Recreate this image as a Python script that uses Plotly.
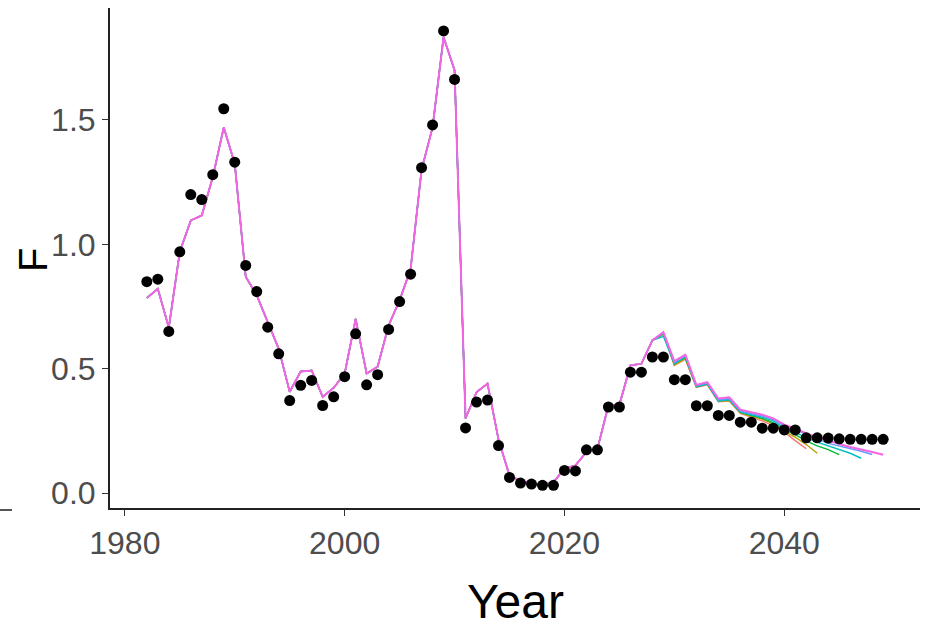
import plotly.graph_objects as go

# ---- data ----
point_years = list(range(1982, 2050))
point_F = [0.85, 0.86, 0.65, 0.97, 1.20, 1.18, 1.28, 1.545, 1.33, 0.915,
           0.81, 0.667, 0.56, 0.372, 0.433, 0.453, 0.352, 0.387, 0.468, 0.64,
           0.435, 0.476, 0.658, 0.77, 0.88, 1.308, 1.48, 1.858, 1.663, 0.262,
           0.366, 0.374, 0.191, 0.063, 0.040, 0.036, 0.031, 0.031, 0.091, 0.089,
           0.174, 0.174, 0.346, 0.346, 0.486, 0.486, 0.547, 0.547, 0.456, 0.456,
           0.351, 0.351, 0.312, 0.312, 0.285, 0.285, 0.261, 0.261, 0.254, 0.254,
           0.222, 0.222, 0.221, 0.218, 0.216, 0.216, 0.216, 0.216]

hist_years = list(range(1982, 2029))
hist_F = [0.784, 0.821, 0.665, 0.97, 1.096, 1.116, 1.27, 1.47, 1.324, 0.87,
          0.795, 0.69, 0.58, 0.407, 0.489, 0.493, 0.387, 0.423, 0.48, 0.70,
          0.48, 0.508, 0.674, 0.775, 0.90, 1.30, 1.47, 1.833, 1.70, 0.30,
          0.406, 0.44, 0.215, 0.07, 0.05, 0.04, 0.035, 0.044, 0.098, 0.111,
          0.165, 0.178, 0.352, 0.355, 0.513, 0.52, 0.614]

series_colors = ["#F8766D", "#B79F00", "#00BA38", "#00BFC4", "#619CFF", "#F564E3"]
proj_start = 2029
proj_F = [
    [0.640, 0.513, 0.538, 0.425, 0.435, 0.367, 0.370, 0.320, 0.305, 0.290, 0.270, 0.245, 0.211, 0.178],
    [0.640, 0.515, 0.540, 0.427, 0.437, 0.370, 0.372, 0.322, 0.310, 0.297, 0.278, 0.248, 0.225, 0.195, 0.160],
    [0.640, 0.520, 0.545, 0.430, 0.440, 0.372, 0.376, 0.325, 0.313, 0.300, 0.283, 0.255, 0.235, 0.210, 0.190, 0.175, 0.155],
    [0.630, 0.520, 0.548, 0.428, 0.438, 0.370, 0.375, 0.325, 0.315, 0.305, 0.290, 0.262, 0.245, 0.222, 0.205, 0.190, 0.175, 0.160, 0.140],
    [0.645, 0.525, 0.552, 0.432, 0.442, 0.375, 0.380, 0.330, 0.320, 0.310, 0.295, 0.270, 0.255, 0.235, 0.218, 0.200, 0.190, 0.178, 0.168, 0.155],
    [0.647, 0.530, 0.556, 0.435, 0.446, 0.380, 0.385, 0.335, 0.325, 0.315, 0.300, 0.275, 0.260, 0.240, 0.225, 0.210, 0.197, 0.185, 0.176, 0.165, 0.154],
]

x_ticks = [1980, 2000, 2020, 2040]
y_ticks = [0.0, 0.5, 1.0, 1.5]
y_ticktext = ["0.0", "0.5", "1.0", "1.5"]
x_title = "Year"
y_title = "F"

fig = go.Figure()
n = len(series_colors)
for i, (col, proj) in enumerate(zip(series_colors, proj_F)):
    yrs = hist_years + list(range(proj_start, proj_start + len(proj)))
    vals = hist_F + proj
    fig.add_trace(go.Scatter(x=yrs, y=vals, mode="lines",
                             line=dict(color=col, width=2.0 if i == n - 1 else 1.4),
                             showlegend=False, hoverinfo="skip"))

fig.add_trace(go.Scatter(x=point_years, y=point_F, mode="markers",
                         marker=dict(color="black", size=11), showlegend=False))

font_family = "Liberation Sans, Arial, sans-serif"
tick_font = dict(family=font_family, size=32, color="#4D4D4D")

fig.update_layout(
    width=925, height=634,
    margin=dict(l=110, r=5, t=8, b=126),
    paper_bgcolor="white", plot_bgcolor="white",
    xaxis=dict(range=[1978.65, 2052.35], tickvals=x_ticks, ticks="outside",
               ticklen=6, tickcolor="#333333", tickwidth=1.2,
               showline=True, linecolor="#222222", linewidth=2,
               showgrid=False, zeroline=False, tickfont=tick_font),
    yaxis=dict(range=[-0.06, 1.95], tickvals=y_ticks, ticktext=y_ticktext,
               ticks="outside", ticklen=6, tickcolor="#333333", tickwidth=1.2,
               showline=True, linecolor="#222222", linewidth=2,
               showgrid=False, zeroline=False, tickfont=tick_font),
    annotations=[
        dict(text=x_title, xref="paper", yref="paper", x=0.5, y=-0.187,
             xanchor="center", yanchor="middle", showarrow=False,
             font=dict(family=font_family, size=48, color="black")),
        dict(text=y_title, xref="paper", yref="paper", x=-0.095, y=0.496,
             xanchor="center", yanchor="middle", showarrow=False, textangle=-90,
             font=dict(family=font_family, size=40, color="black")),
    ],
    shapes=[dict(type="line", xref="paper", yref="paper",
                 x0=-0.136, x1=-0.121, y0=-0.004, y1=-0.004,
                 line=dict(color="#555555", width=2))],
)

fig.write_html("out.html")
